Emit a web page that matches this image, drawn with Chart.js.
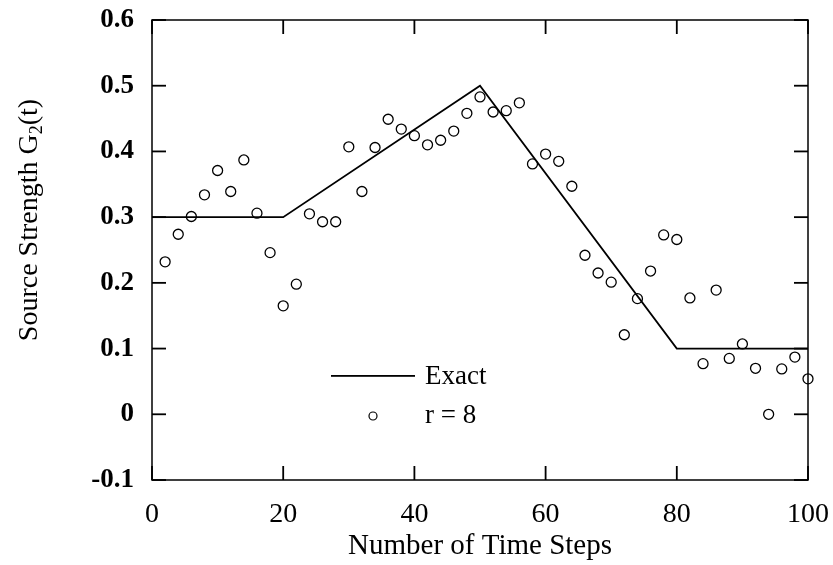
<!DOCTYPE html>
<html>
<head>
<meta charset="utf-8">
<script src="https://cdn.jsdelivr.net/npm/chart.js@4.4.1/dist/chart.umd.min.js"></script>
<style>
  html, body { margin: 0; padding: 0; background: #fff; }
</style>
</head>
<body>
<canvas id="sourceChart" width="833" height="565"></canvas>
<script>
// Exact source strength (piecewise linear)
const exactSteps = [0, 20, 50, 80, 100];
const exactValues = [0.3, 0.3, 0.5, 0.1, 0.1];

// Estimated values, r = 8
const timeSteps = [2, 4, 6, 8, 10, 12, 14, 16, 18, 20,
    22, 24, 26, 28, 30, 32, 34, 36, 38, 40,
    42, 44, 46, 48, 50, 52, 54, 56, 58, 60,
    62, 64, 66, 68, 70, 72, 74, 76, 78, 80,
    82, 84, 86, 88, 90, 92, 94, 96, 98, 100];
const estimated = [0.232, 0.274, 0.301, 0.334, 0.371, 0.339, 0.387, 0.306, 0.246, 0.165,
    0.198, 0.305, 0.293, 0.293, 0.407, 0.339, 0.406, 0.449, 0.434, 0.424,
    0.410, 0.417, 0.431, 0.458, 0.483, 0.460, 0.462, 0.474, 0.381, 0.396,
    0.385, 0.347, 0.242, 0.215, 0.201, 0.121, 0.176, 0.218, 0.273, 0.266,
    0.177, 0.077, 0.189, 0.085, 0.107, 0.070, 0.000, 0.069, 0.087, 0.054];

const xTicks = [0, 20, 40, 60, 80, 100];
const yTicks = [-0.1, 0, 0.1, 0.2, 0.3, 0.4, 0.5, 0.6];

const serif = '"Liberation Serif", "Times New Roman", serif';

// frame, inward ticks, legend and y title
const framePlugin = {
    id: 'frame',
    afterDraw(chart) {
        const ctx = chart.ctx;
        const a = chart.chartArea;
        const xs = chart.scales.x;
        const ys = chart.scales.y;
        ctx.save();
        ctx.strokeStyle = '#000';
        ctx.fillStyle = '#000';
        ctx.lineWidth = 1.5;
        ctx.strokeRect(a.left, a.top, a.right - a.left, a.bottom - a.top);
        const len = 14;
        const w = 1.8;
        for (const v of xTicks) {
            const px = xs.getPixelForValue(v);
            ctx.fillRect(px - w / 2, a.bottom - len, w, len);
            ctx.fillRect(px - w / 2, a.top, w, len);
        }
        for (const v of yTicks) {
            const py = ys.getPixelForValue(v);
            ctx.fillRect(a.left, py - w / 2, len, w);
            ctx.fillRect(a.right - len, py - w / 2, len, w);
        }

        // legend
        ctx.fillRect(331, 375, 84, 1.8);
        ctx.lineWidth = 1.2;
        ctx.beginPath();
        ctx.arc(373, 416, 4, 0, Math.PI * 2);
        ctx.stroke();
        ctx.font = '27px ' + serif;
        ctx.textBaseline = 'middle';
        ctx.textAlign = 'left';
        ctx.fillText('Exact', 425, 377);
        ctx.fillText('r = 8', 425, 416);

        // y axis title with subscript
        ctx.translate(30, 220);
        ctx.rotate(-Math.PI / 2);
        const main = 'Source Strength G';
        const tail = '(t)';
        ctx.font = '28px ' + serif;
        const w1 = ctx.measureText(main).width;
        const w3 = ctx.measureText(tail).width;
        ctx.font = '18px ' + serif;
        const w2 = ctx.measureText('2').width;
        const start = -(w1 + w2 + w3) / 2;
        ctx.font = '28px ' + serif;
        ctx.fillText(main, start, 0);
        ctx.font = '18px ' + serif;
        ctx.fillText('2', start + w1, 7);
        ctx.font = '28px ' + serif;
        ctx.fillText(tail, start + w1 + w2, 0);
        ctx.restore();
    }
};

document.addEventListener('DOMContentLoaded', () => {
    const ctx = document.getElementById('sourceChart').getContext('2d');
    new Chart(ctx, {
        type: 'scatter',
        data: {
            datasets: [{
                label: 'Exact',
                data: exactSteps.map((x, i) => ({ x: x, y: exactValues[i] })),
                showLine: true,
                borderColor: '#000',
                borderWidth: 1.8,
                pointRadius: 0,
                tension: 0,
            }, {
                label: 'r = 8',
                data: timeSteps.map((x, i) => ({ x: x, y: estimated[i] })),
                showLine: false,
                clip: false,
                pointStyle: 'circle',
                pointRadius: 5,
                borderColor: '#000',
                borderWidth: 1.3,
                backgroundColor: 'rgba(0,0,0,0)',
            }]
        },
        options: {
            responsive: false,
            animation: false,
            devicePixelRatio: 1,
            layout: { padding: { top: 20, right: 25, left: 0, bottom: 0 } },
            plugins: {
                legend: { display: false },
                tooltip: { enabled: false },
            },
            scales: {
                x: {
                    type: 'linear',
                    min: 0,
                    max: 100,
                    grid: { display: false, drawTicks: false },
                    border: { display: false },
                    afterBuildTicks: scale => { scale.ticks = xTicks.map(v => ({ value: v })); },
                    afterFit: scale => {
                        scale.height = 85;
                        scale.paddingLeft = 0;
                        scale.paddingRight = 0;
                    },
                    ticks: {
                        padding: 18,
                        color: '#000',
                        maxRotation: 0,
                        autoSkip: false,
                        font: { family: serif, size: 28 },
                    },
                    title: {
                        display: true,
                        text: 'Number of Time Steps',
                        color: '#000',
                        padding: { top: 0, bottom: 1 },
                        font: { family: serif, size: 29 },
                    }
                },
                y: {
                    min: -0.1,
                    max: 0.6,
                    grid: { display: false, drawTicks: false },
                    border: { display: false },
                    afterBuildTicks: scale => { scale.ticks = yTicks.map(v => ({ value: v })); },
                    afterFit: scale => {
                        scale.width = 152;
                        scale.paddingTop = 0;
                        scale.paddingBottom = 0;
                    },
                    ticks: {
                        padding: 18,
                        color: '#000',
                        autoSkip: false,
                        font: { family: serif, size: 27, weight: 'bold' },
                        callback: v => Number(v.toFixed(1)).toString(),
                    }
                }
            }
        },
        plugins: [framePlugin]
    });
});
</script>
</body>
</html>
